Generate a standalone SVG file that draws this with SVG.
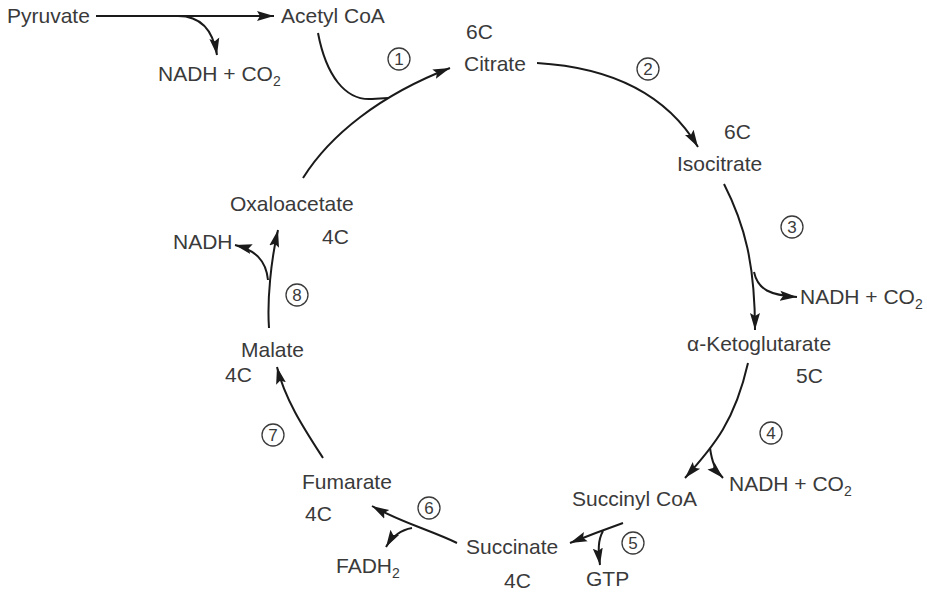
<svg xmlns="http://www.w3.org/2000/svg" width="927" height="592" viewBox="0 0 927 592">
<defs>
<marker id="ah" markerUnits="userSpaceOnUse" markerWidth="18" markerHeight="12" refX="17" refY="6" orient="auto">
<path d="M0,1 L17,6 L0,11 L3,6 Z" fill="#1a1a1a"/>
</marker>
<style>
text{font-family:"Liberation Sans",Arial,sans-serif;font-size:21px;fill:#3a3a3a}
.sub{font-size:14px}
.num{font-size:17px;text-anchor:middle}
.c{fill:none;stroke:#3a3a3a;stroke-width:1.3}
.ln{fill:none;stroke:#1a1a1a;stroke-width:2}
</style>
</defs>
<rect width="927" height="592" fill="#fff"/>
<g id="connectors">
<path class="ln" d="M96,16 H274" marker-end="url(#ah)"/>
<path class="ln" d="M178,16 C200,16 213,30 217,55" marker-end="url(#ah)"/>
<path class="ln" d="M318,33 C326,75 345,101 372,99 Q380,98.5 388,98"/>
<path class="ln" d="M303,178 C330,135 380,95 450,68" marker-end="url(#ah)"/>
<path class="ln" d="M537,63 C620,68 670,100 698,147" marker-end="url(#ah)"/>
<path class="ln" d="M724,184 C745,225 755,265 755,330" marker-end="url(#ah)"/>
<path class="ln" d="M754,272 C758,290 770,295 797,297" marker-end="url(#ah)"/>
<path class="ln" d="M748,363 C735,420 715,445 685,478" marker-end="url(#ah)"/>
<path class="ln" d="M710,448 C712,462 715,470 723,478" marker-end="url(#ah)"/>
<path class="ln" d="M623,523 Q595,533 570,543" marker-end="url(#ah)"/>
<path class="ln" d="M603,531 C598,540 598,550 600,565" marker-end="url(#ah)"/>
<path class="ln" d="M457,543 C430,530 400,522 372,506" marker-end="url(#ah)"/>
<path class="ln" d="M412,528 C400,530 392,537 386,547" marker-end="url(#ah)"/>
<path class="ln" d="M323,458 C305,430 285,400 277,367" marker-end="url(#ah)"/>
<path class="ln" d="M269,328 C267,300 271,260 278,230" marker-end="url(#ah)"/>
<path class="ln" d="M268,280 C266,260 255,250 235,245" marker-end="url(#ah)"/>
</g>
<g id="pyruvate"><text x="7" y="23">Pyruvate</text></g>
<g id="acetylcoa"><text x="281" y="23">Acetyl CoA</text></g>
<g id="nadh0"><text x="158" y="81">NADH + CO<tspan class="sub" dy="5">2</tspan></text></g>
<g id="citrate"><text x="466" y="39">6C</text><text x="464" y="71">Citrate</text></g>
<g id="isocitrate"><text x="724" y="139">6C</text><text x="677" y="171">Isocitrate</text></g>
<g id="nadh3"><text x="800" y="304">NADH + CO<tspan class="sub" dy="5">2</tspan></text></g>
<g id="akg"><text x="687" y="351">α-Ketoglutarate</text><text x="796" y="383">5C</text></g>
<g id="nadh4"><text x="729" y="491">NADH + CO<tspan class="sub" dy="5">2</tspan></text></g>
<g id="succinylcoa"><text x="572" y="506">Succinyl CoA</text></g>
<g id="gtp"><text x="586" y="586">GTP</text></g>
<g id="succinate"><text x="466" y="554">Succinate</text><text x="504" y="588">4C</text></g>
<g id="fadh2"><text x="336" y="573">FADH<tspan class="sub" dy="5">2</tspan></text></g>
<g id="fumarate"><text x="302" y="489">Fumarate</text><text x="305" y="521">4C</text></g>
<g id="malate"><text x="241" y="357">Malate</text><text x="225" y="382">4C</text></g>
<g id="oxaloacetate"><text x="230" y="211">Oxaloacetate</text><text x="322" y="244">4C</text></g>
<g id="nadh8"><text x="173" y="249">NADH</text></g>
<g id="steps">
<circle class="c" cx="399" cy="59" r="11"/><text class="num" x="399" y="65">1</text>
<circle class="c" cx="648" cy="69" r="11"/><text class="num" x="648" y="75">2</text>
<circle class="c" cx="792" cy="227" r="11"/><text class="num" x="792" y="233">3</text>
<circle class="c" cx="771" cy="433" r="11"/><text class="num" x="771" y="439">4</text>
<circle class="c" cx="633" cy="543" r="11"/><text class="num" x="633" y="549">5</text>
<circle class="c" cx="429" cy="508" r="11"/><text class="num" x="429" y="514">6</text>
<circle class="c" cx="273" cy="435" r="11"/><text class="num" x="273" y="441">7</text>
<circle class="c" cx="297" cy="295" r="11"/><text class="num" x="297" y="301">8</text>
</g>
</svg>
